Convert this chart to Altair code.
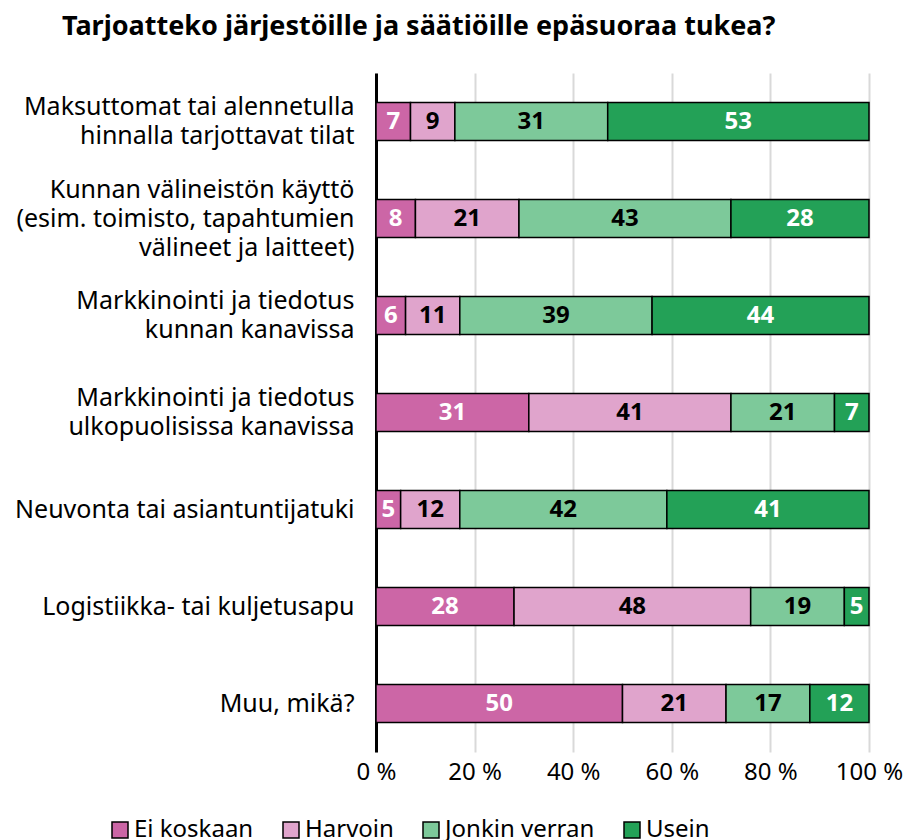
import altair as alt
import pandas as pd

title_text = "Tarjoatteko järjestöille ja säätiöille epäsuoraa tukea?"
items = [
    "Maksuttomat tai alennetulla|hinnalla tarjottavat tilat",
    "Kunnan välineistön käyttö|(esim. toimisto, tapahtumien|välineet ja laitteet)",
    "Markkinointi ja tiedotus|kunnan kanavissa",
    "Markkinointi ja tiedotus |ulkopuolisissa kanavissa",
    "Neuvonta tai asiantuntijatuki",
    "Logistiikka- tai kuljetusapu",
    "Muu, mikä?",
]
categories = ["Ei koskaan", "Harvoin", "Jonkin verran", "Usein"]
colors = ["#CC66A6", "#E0A4CC", "#7DC99A", "#23A157"]
ei_koskaan = [7, 8, 6, 31, 5, 28, 50]
harvoin = [9, 21, 11, 41, 12, 48, 21]
jonkin_verran = [31, 43, 39, 21, 42, 19, 17]
usein = [53, 28, 44, 7, 41, 5, 12]
x_ticks = [0, 20, 40, 60, 80, 100]

series = [ei_koskaan, harvoin, jonkin_verran, usein]
rows = []
for ci, (cat, vals) in enumerate(zip(categories, series)):
    for item, v in zip(items, vals):
        rows.append({"item": item, "cat": cat, "order": ci, "value": v})
df = pd.DataFrame(rows)

FONT = "Noto Sans"
LINE_H = 29

base = alt.Chart(df).transform_stack(
    stack="value", groupby=["item"], sort=[alt.SortField("order")], as_=["x0", "x1"]
).transform_calculate(mid="(datum.x0 + datum.x1) / 2")

y_enc = alt.Y(
    "item:N",
    sort=items,
    title=None,
    scale=alt.Scale(paddingInner=0.61, paddingOuter=0.305),
    axis=alt.Axis(
        labelExpr="split(datum.label, '|')",
        labelFontSize=25,
        labelFont=FONT,
        labelColor="black",
        labelLineHeight=LINE_H,
        labelPadding=22,
        labelOffset={
            "condition": [
                {"test": "indexof(datum.label, '(esim.') >= 0", "value": -LINE_H},
                {"test": "indexof(datum.label, '|') >= 0", "value": -LINE_H / 2},
            ],
            "value": 0,
        },
        ticks=False,
        domain=True,
        domainColor="black",
        domainWidth=3,
        grid=False,
        labelLimit=400,
    ),
)

bars = base.mark_bar(stroke="black", strokeWidth=1.5).encode(
    x=alt.X(
        "x0:Q",
        title=None,
        scale=alt.Scale(domain=[0, 100], nice=False),
        axis=alt.Axis(
            values=x_ticks,
            labelExpr="datum.value + ' %'",
            labelFontSize=24,
            labelFont=FONT,
            labelColor="black",
            labelPadding=8,
            labelFlush=False,
            labelOverlap=False,
            domain=False,
            ticks=False,
            grid=True,
            gridColor="#d9d9d9",
            gridWidth=2,
        ),
    ),
    x2="x1:Q",
    y=y_enc,
    color=alt.Color(
        "cat:N",
        scale=alt.Scale(domain=categories, range=colors),
        sort=categories,
        legend=alt.Legend(
            title=None,
            orient="none",
            direction="horizontal",
            legendX=-268,
            legendY=745,
            symbolType="square",
            symbolSize=256,
            symbolStrokeColor="black",
            symbolStrokeWidth=1.5,
            symbolOpacity=1,
            labelFontSize=24,
            labelFont=FONT,
            labelColor="black",
            labelOffset=2,
            columnPadding=25,
        ),
    ),
    order=alt.Order("order:Q"),
)

texts = base.mark_text(fontSize=24, fontWeight="bold", font=FONT).encode(
    x="mid:Q",
    y=alt.Y("item:N", sort=items),
    text="value:Q",
    color=alt.condition(
        "datum.cat == 'Ei koskaan' || datum.cat == 'Usein'",
        alt.value("white"),
        alt.value("black"),
    ),
)

chart = (
    alt.layer(bars, texts)
    .properties(
        width=493,
        height=679,
        autosize=alt.AutoSizeParams(type="none"),
        padding={"left": 368, "top": 65, "right": 34, "bottom": 88},
        title=alt.TitleParams(
            title_text,
            anchor="start",
            frame="group",
            dx=-314,
            offset=32,
            fontSize=27,
            font=FONT,
            fontWeight="bold",
            color="black",
        ),
    )
    .configure_view(stroke=None)
)

chart.save("out.html", embed_options={"renderer": "svg", "actions": False})
